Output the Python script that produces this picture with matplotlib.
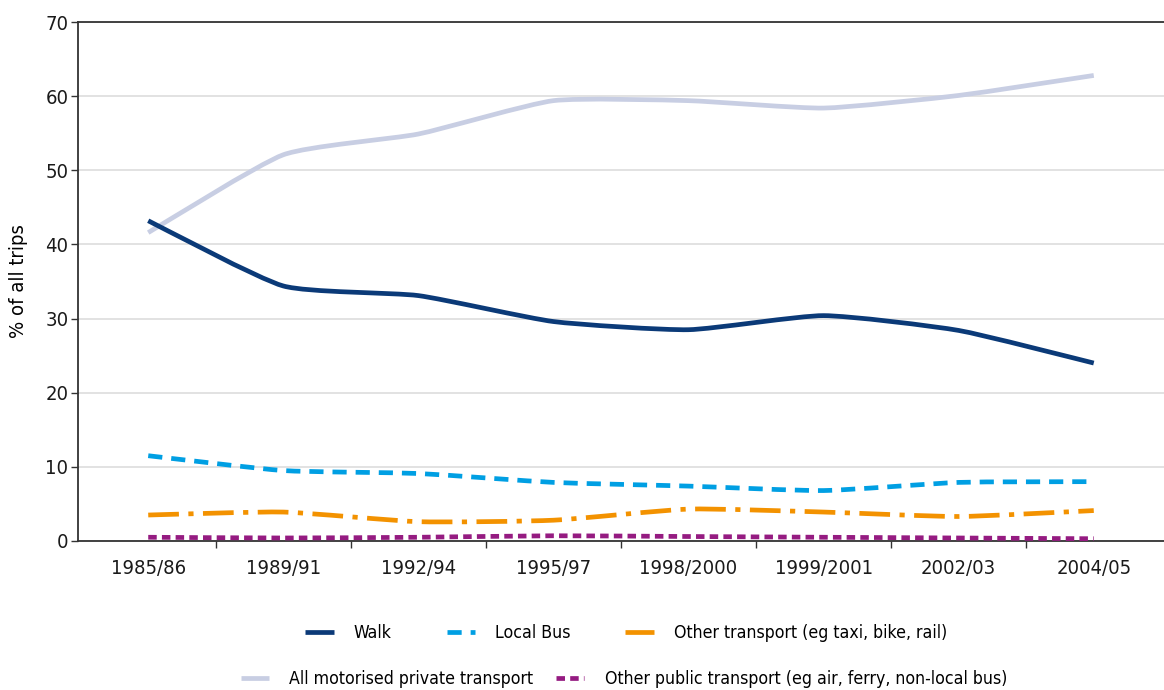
import numpy as np
import matplotlib
matplotlib.use('Agg')
import matplotlib.pyplot as plt
from matplotlib.path import Path
from matplotlib.patches import PathPatch
from matplotlib.lines import Line2D

plt.rcParams['font.family'] = ['DejaVu Sans']
plt.rcParams['font.stretch'] = 'condensed'

periods = ['1985/86', '1989/91', '1992/94', '1995/97', '1998/2000', '1999/2001', '2002/03', '2004/05']
walk = [43.2, 34.4, 33.1, 29.6, 28.5, 30.4, 28.4, 24.0]
local_bus = [11.5, 9.5, 9.1, 7.9, 7.4, 6.8, 7.9, 8.0]
other_transport = [3.5, 3.9, 2.6, 2.8, 4.3, 3.9, 3.3, 4.1]
private = [41.6, 52.1, 54.9, 59.4, 59.4, 58.4, 60.1, 62.8]
other_public = [0.5, 0.4, 0.5, 0.7, 0.6, 0.5, 0.4, 0.3]

series = [
    ('Walk', walk, '#0b3a78', '-'),
    ('Local Bus', local_bus, '#009fe3', (0, (3.0, 1.9))),
    ('Other transport (eg taxi, bike, rail)', other_transport, '#f39200', (0, (6.5, 2.0, 1.1, 2.0))),
    ('All motorised private transport', private, '#c8cee3', '-'),
    ('Other public transport (eg air, ferry, non-local bus)', other_public, '#951b81', (0, (1.8, 1.1))),
]


def smooth_path(x, y, k=11.0):
    # mild bezier rounding through the points (like Excel's smoothed lines)
    pts = np.column_stack([x, y]).astype(float)
    verts = [pts[0]]
    codes = [Path.MOVETO]
    n = len(pts)
    for i in range(n - 1):
        p0 = pts[max(i - 1, 0)]
        p1 = pts[i]
        p2 = pts[i + 1]
        p3 = pts[min(i + 2, n - 1)]
        c1 = p1 + (p2 - p0) / k
        c2 = p2 - (p3 - p1) / k
        verts += [c1, c2, p2]
        codes += [Path.CURVE4] * 3
    return Path(verts, codes)


fig = plt.figure(figsize=(11.64, 6.9), dpi=100)
ax = fig.add_axes([0.067, 0.216, 0.933, 0.752])

x = np.arange(len(periods))
draw_order = [3, 0, 1, 2, 4]
handles = {}
for i in draw_order:
    label, vals, color, ls = series[i]
    lw = 3.4
    patch = PathPatch(smooth_path(x, vals), fill=False, edgecolor=color, lw=lw,
                      linestyle=ls, capstyle='butt', joinstyle='round', zorder=3)
    ax.add_patch(patch)
    handles[label] = Line2D([], [], color=color, lw=lw, linestyle=ls, solid_capstyle='butt')

ax.set_xlim(-0.52, 7.52)
ax.set_ylim(0, 70)
ax.set_yticks(range(0, 71, 10))
ax.set_xticks(x)
ax.set_xticklabels(periods)
ax.set_xticks(np.arange(0.5, 7.5, 1), minor=True)
ax.tick_params(axis='x', which='major', length=0, pad=13, labelsize=14.5, colors='#1a1a1a')
ax.tick_params(axis='x', which='minor', length=5, width=1, direction='out', color='#333333')
ax.tick_params(axis='y', length=5, width=1, direction='out', labelsize=14.5, colors='#1a1a1a', color='#333333', pad=2)
ax.grid(axis='y', color='#dddddd', lw=1.2, zorder=0)
ax.set_axisbelow(True)
for s in ['left', 'bottom', 'top']:
    ax.spines[s].set_color('#333333')
    ax.spines[s].set_linewidth(1.3)
ax.spines['right'].set_visible(False)
ax.set_ylabel('% of all trips', fontsize=14.5, labelpad=12)

row1 = ['Walk', 'Local Bus', 'Other transport (eg taxi, bike, rail)']
row2 = ['All motorised private transport', 'Other public transport (eg air, ferry, non-local bus)']
fig.legend([handles[k] for k in row1], row1, loc='center', bbox_to_anchor=(0.538, 0.082),
           ncol=3, frameon=False, fontsize=12.7, handlelength=1.6, handletextpad=1.15,
           columnspacing=3.1)
fig.legend([handles[k] for k in row2], row2, loc='center', bbox_to_anchor=(0.536, 0.016),
           ncol=2, frameon=False, fontsize=12.7, handlelength=1.6, handletextpad=1.15,
           columnspacing=1.3)

fig.savefig('out.png', dpi=100)
